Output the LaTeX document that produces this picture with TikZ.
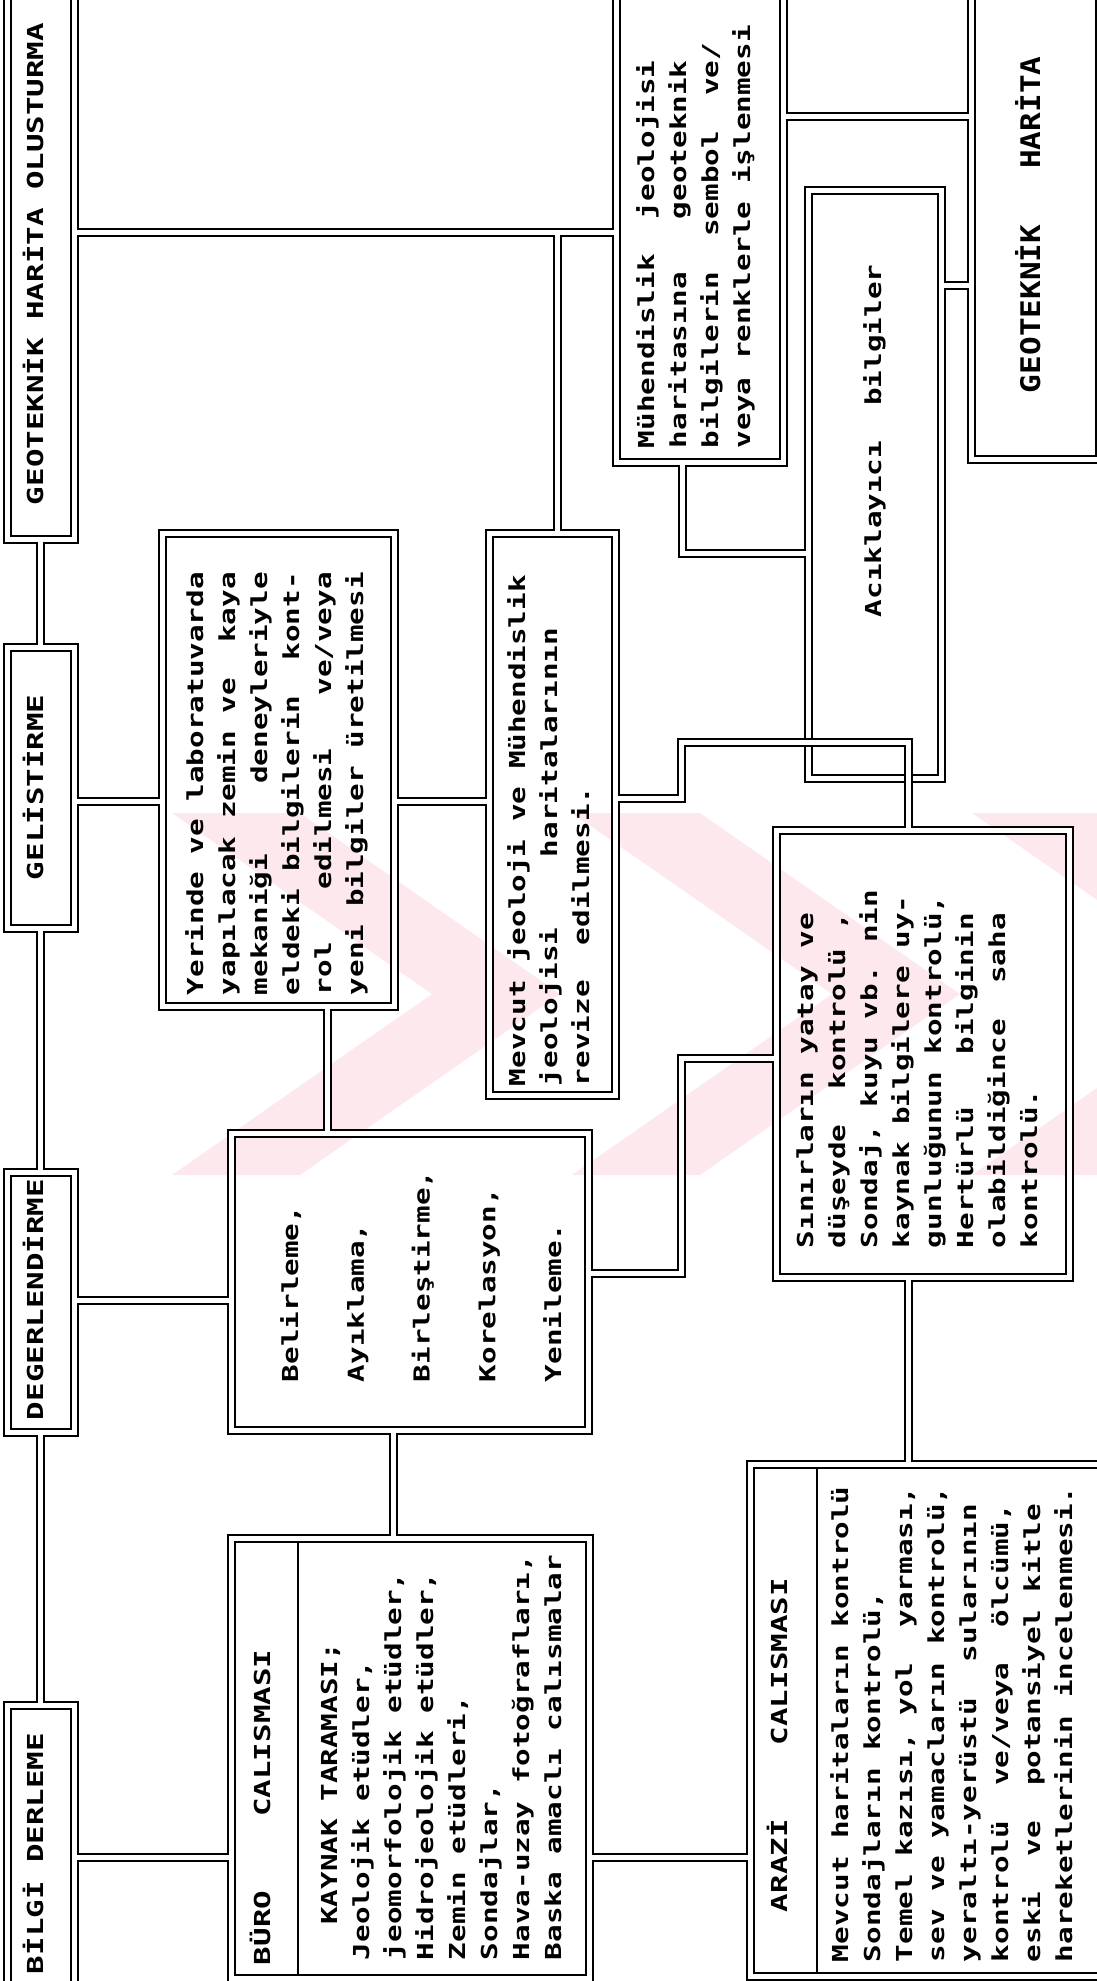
\documentclass[tikz,border=0pt]{standalone}
\usepackage{fontspec}
\newfontfamily\dm[FakeStretch=1.33]{DejaVu Sans Mono}
\newfontfamily\dmh[FakeStretch=1.40]{DejaVu Sans Mono}
\newfontfamily\dmgh[FakeStretch=1.15]{DejaVu Sans Mono}
\usetikzlibrary{fit,calc}
\definecolor{wm}{RGB}{252,232,237}
\newcommand\strutA{\rule{0pt}{12pt}}
\newcommand\strutB{\rule{0pt}{14pt}}
\begin{document}
\begin{tikzpicture}[x=0.5pt,y=-0.5pt,
  box/.style={draw, line width=1pt, double=white, double distance=2.5pt, inner sep=0pt, outer sep=0pt},
  conn/.style={draw, line width=1pt, double=white, double distance=2.5pt, shorten <=1.25pt, shorten >=1.25pt, line join=miter},
  div/.style={draw, line width=1pt},
  tx/.style={rotate=90, anchor=north west, inner sep=0pt, outer sep=0pt, align=left, font={\dm\bfseries\fontsize{11pt}{16pt}\selectfont}},
  txh/.style={tx, font={\dmh\bfseries\fontsize{11pt}{16pt}\selectfont}},
  txb/.style={tx, font={\dm\bfseries\fontsize{11pt}{32.9pt}\selectfont}},
  txg/.style={tx, font={\dmgh\bfseries\fontsize{13.5pt}{16pt}\selectfont}},
]
\useasboundingbox (0,0) rectangle (1097,1981);
\clip (0,0) rectangle (1097,1981);

% watermark
\fill[wm] (172,813) -- (300,813) -- (560,994) -- (300,1175) -- (172,1175) -- (432,994) -- cycle;
\fill[wm] (572,813) -- (700,813) -- (960,994) -- (700,1175) -- (572,1175) -- (832,994) -- cycle;
\fill[wm] (972,813) -- (1100,813) -- (1360,994) -- (1100,1175) -- (972,1175) -- (1232,994) -- cycle;

% boxes
\node[box, fit={(7,-10) (74,539)}] (h1) {};
\node[box, fit={(7,647) (74,928)}] (h2) {};
\node[box, fit={(7,1172) (74,1432)}] (h3) {};
\node[box, fit={(7,1705) (74,1995)}] (h4) {};
\node[box, fit={(231,1538) (589,1978)}] (buro) {};
\node[box, fit={(750,1464) (1110,1976)}] (arazi) {};
\node[box, fit={(231,1133) (588,1430)}] (bel) {};
\node[box, fit={(162,533) (394,1006)}] (yer) {};
\node[box, fit={(489,533) (615,1095)}] (mev) {};
\node[box, fit={(776,830) (1069,1277)}] (sin) {};
\node[box, fit={(616,-10) (783,462)}] (muh) {};
\node[box, fit={(808,190) (941,778)}] (acik) {};
\node[box, fit={(971,-10) (1099,459)}] (gh) {};

% dividers
\draw[div] ($(buro.north -| 298,0)+(0,3.5)$) -- ($(buro.south -| 298,0)+(0,-3.5)$);
\draw[div] ($(arazi.north -| 817,0)+(0,3.5)$) -- ($(arazi.south -| 817,0)+(0,-3.5)$);

% connectors
\draw[conn] (h1) -- (h2);
\draw[conn] (h2) -- (h3);
\draw[conn] (h3) -- (h4);
\draw[conn] (h1.east |- 0,232) -- (muh.west |- 0,232);
\coordinate (j1) at (557,232);
\draw[conn] (j1) -- (mev.north -| j1);
\draw[conn] (muh.east |- 0,116) -- (gh.west |- 0,116);
\draw[conn] (muh.south -| 682,0) |- (acik.west |- 0,553);
\draw[conn] (acik.east |- 0,285) -- (gh.west |- 0,285);
\draw[conn] (h2.east |- 0,801) -- (yer.west |- 0,801);
\draw[conn] (yer.east |- 0,801) -- (mev.west |- 0,801);
\draw[conn] (mev.east |- 0,798) -- (681,798) -- (681,742) -- (908,742) -- (sin.north -| 908,0);
\draw[conn] (yer.south -| 327,0) -- (bel.north -| 327,0);
\draw[conn] (h3.east |- 0,1300) -- (bel.west |- 0,1300);
\draw[conn] (bel.east |- 0,1273) -- (681,1273) -- (681,1058) -- (sin.west |- 0,1058);
\draw[conn] (bel.south -| 393,0) -- (buro.north -| 393,0);
\draw[conn] (sin.south -| 908,0) -- (arazi.north -| 908,0);
\draw[conn] (h4.east |- 0,1857) -- (buro.west |- 0,1857);
\draw[conn] (buro.east |- 0,1857) -- (arazi.west |- 0,1857);

% texts
\node[txh] (th1) at (19,505) {\strutA GEOTEKNİK HARİTA OLUSTURMA};
\node[txh] (th2) at (19,880) {\strutA GELİSTİRME};
\node[txh] (th3) at (19,1420) {\strutA DEGERLENDİRME};
\node[txh] (th4) at (19,1974) {\strutA BİLGİ DERLEME};

\node[txh] (tburoh) at (246,1965) {\strutA BÜRO~~~~CALISMASI};
\node[tx] (tburo) at (313,1960) {\strutA~~KAYNAK TARAMASI;\\Jeolojik etüdler,\\jeomorfolojik etüdler,\\Hidrojeolojik etüdler,\\Zemin etüdleri,\\Sondajlar,\\Hava-uzay fotoğrafları,\\Baska amaclı calısmalar};

\node[txh] (tarazih) at (763,1912) {\strutA ARAZİ~~~~CALISMASI};
\node[tx] (tarazi) at (824,1962) {\strutA Mevcut haritaların kontrolü\\Sondajların kontrolü,\\Temel kazısı, yol~~yarması,\\sev ve yamacların kontrolü,\\yeraltı-yerüstü~~sularının\\kontrolü~~ve/veya~~ölcümü,\\eski~~ve~~potansiyel kitle\\hareketlerinin incelenmesi.};

\node[txb] (tbel) at (274,1382) {\strutA Belirleme,\\Ayıklama,\\Birleştirme,\\Korelasyon,\\Yenileme.};

\node[tx] (tyer) at (179,995) {\strutA Yerinde ve laboratuvarda\\yapılacak zemin ve~~kaya\\mekaniği~~~~deneyleriyle\\eldeki bilgilerin~~kont-\\rol~~~edilmesi~~~ve/veya\\yeni bilgiler üretilmesi};

\node[tx] (tmev) at (501,1086) {\strutA Mevcut jeoloji ve Mühendislik\\jeolojisi~~~~haritalarının\\revize~~edilmesi.};

\node[tx] (tsin) at (789,1248) {\strutA Sınırların yatay ve\\düşeyde~~kontrolü~,\\Sondaj, kuyu vb. nin\\kaynak bilgilere uy-\\gunluğunun kontrolü,\\Hertürlü~~~bilginin\\olabildiğince~~saha\\kontrolü.};

\node[tx] (tmuh) at (630,448) {\strutA Mühendislik~~jeolojisi\\haritasına~~~geoteknik\\bilgilerin~~sembol~~ve/\\veya renklerle işlenmesi};

\node[tx] (tacik) at (857,617) {\strutA Acıklayıcı~~bilgiler};

\node[txg] (tgh) at (1012,393) {\strutB GEOTEKNİK~~~HARİTA};
\end{tikzpicture}
\end{document}
